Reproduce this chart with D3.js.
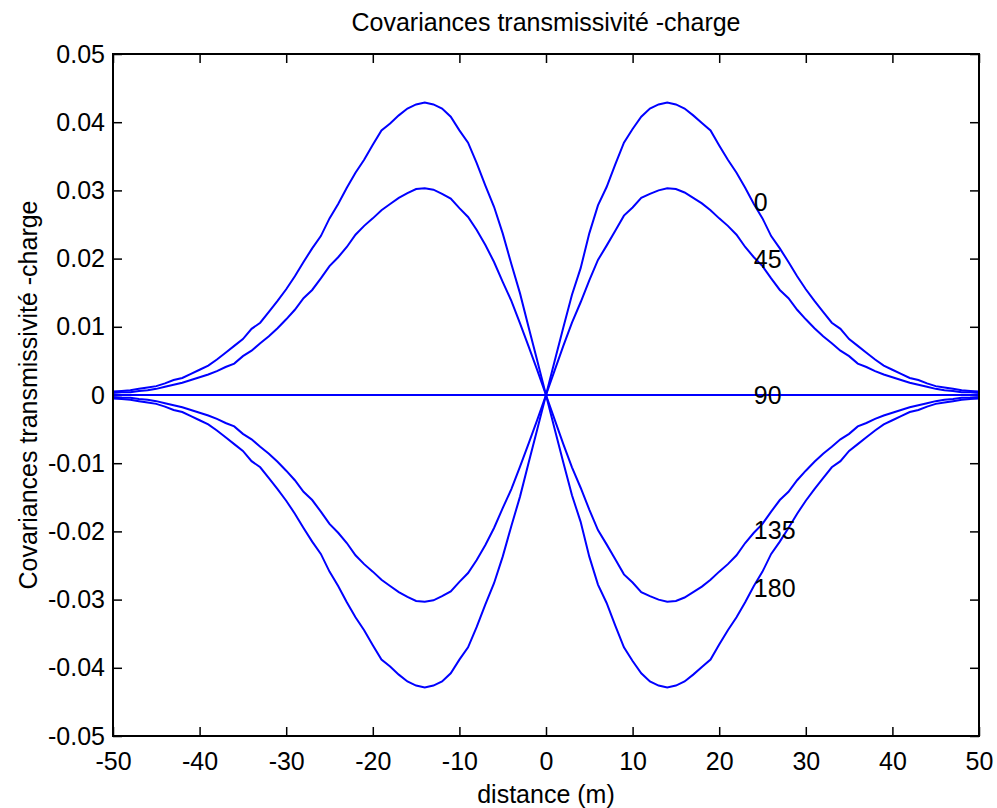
<!DOCTYPE html>
<html>
<head>
<meta charset="UTF-8">
<title>Covariances transmissivité -charge</title>
<script src="https://d3js.org/d3.v7.min.js"></script>
<style>
  body { margin: 0; background: #fff; }
  text { font-family: "Liberation Sans", Arial, Helvetica, sans-serif; }
</style>
</head>
<body>
<div id="chart"></div>
<script>
// distances (m)
const distance = d3.range(-50, 51, 1)

// covariance curves, one per angle
const cov0 = [
  -0.0005,-0.0006,-0.0007,-0.0009,-0.0011,-0.0013,-0.0017,-0.0022,-0.0025,-0.0031,
  -0.0037,-0.0043,-0.0052,-0.0062,-0.0072,-0.0082,-0.0097,-0.0106,-0.0122,-0.0138,
  -0.0155,-0.0174,-0.0195,-0.0215,-0.0233,-0.0259,-0.0280,-0.0304,-0.0326,-0.0345,
  -0.0367,-0.0388,-0.0398,-0.0410,-0.0420,-0.0426,-0.0429,-0.0426,-0.0420,-0.0408,
  -0.0388,-0.0370,-0.0340,-0.0307,-0.0276,-0.0237,-0.0192,-0.0149,-0.0099,-0.0050,
  0,
  0.0050,0.0099,0.0147,0.0186,0.0237,0.0278,0.0305,0.0338,0.0370,0.0390,
  0.0408,0.0420,0.0426,0.0429,0.0426,0.0420,0.0410,0.0399,0.0388,0.0366,
  0.0345,0.0326,0.0304,0.0280,0.0259,0.0233,0.0215,0.0195,0.0174,0.0155,
  0.0138,0.0122,0.0106,0.0097,0.0082,0.0072,0.0062,0.0052,0.0043,0.0037,
  0.0031,0.0025,0.0022,0.0017,0.0013,0.0011,0.0009,0.0007,0.0006,0.0005
]
const cov45 = [
  -0.0003,-0.0004,-0.0004,-0.0006,-0.0007,-0.0009,-0.0012,-0.0015,-0.0018,-0.0022,
  -0.0026,-0.0030,-0.0035,-0.0041,-0.0046,-0.0057,-0.0065,-0.0076,-0.0086,-0.0098,
  -0.0111,-0.0125,-0.0142,-0.0154,-0.0171,-0.0189,-0.0202,-0.0217,-0.0235,-0.0248,
  -0.0259,-0.0271,-0.0280,-0.0289,-0.0296,-0.0302,-0.0303,-0.0301,-0.0295,-0.0288,
  -0.0274,-0.0261,-0.0242,-0.0220,-0.0195,-0.0166,-0.0138,-0.0105,-0.0071,-0.0036,
  0,
  0.0036,0.0072,0.0106,0.0136,0.0168,0.0198,0.0219,0.0241,0.0263,0.0275,
  0.0289,0.0295,0.0300,0.0303,0.0302,0.0297,0.0289,0.0281,0.0271,0.0259,
  0.0248,0.0235,0.0217,0.0202,0.0189,0.0171,0.0154,0.0142,0.0125,0.0111,
  0.0098,0.0086,0.0076,0.0065,0.0057,0.0046,0.0041,0.0035,0.0030,0.0026,
  0.0022,0.0018,0.0015,0.0012,0.0009,0.0007,0.0006,0.0004,0.0004,0.0003
]
const cov90 = [
  0,0,0,0,0,0,0,0,0,0, 0,0,0,0,0,0,0,0,0,0, 0,0,0,0,0,0,0,0,0,0,
  0,0,0,0,0,0,0,0,0,0, 0,0,0,0,0,0,0,0,0,0, 0,
  0,0,0,0,0,0,0,0,0,0, 0,0,0,0,0,0,0,0,0,0, 0,0,0,0,0,0,0,0,0,0,
  0,0,0,0,0,0,0,0,0,0, 0,0,0,0,0,0,0,0,0,0
]
const cov135 = [
  0.0003,0.0004,0.0004,0.0006,0.0007,0.0009,0.0012,0.0015,0.0018,0.0022,
  0.0026,0.0030,0.0035,0.0041,0.0046,0.0057,0.0065,0.0076,0.0086,0.0098,
  0.0111,0.0125,0.0142,0.0154,0.0171,0.0189,0.0202,0.0217,0.0235,0.0248,
  0.0259,0.0271,0.0280,0.0289,0.0296,0.0302,0.0303,0.0301,0.0295,0.0288,
  0.0274,0.0261,0.0242,0.0220,0.0195,0.0166,0.0138,0.0105,0.0071,0.0036,
  0,
  -0.0036,-0.0072,-0.0106,-0.0136,-0.0168,-0.0198,-0.0219,-0.0241,-0.0263,-0.0275,
  -0.0289,-0.0295,-0.0300,-0.0303,-0.0302,-0.0297,-0.0289,-0.0281,-0.0271,-0.0259,
  -0.0248,-0.0235,-0.0217,-0.0202,-0.0189,-0.0171,-0.0154,-0.0142,-0.0125,-0.0111,
  -0.0098,-0.0086,-0.0076,-0.0065,-0.0057,-0.0046,-0.0041,-0.0035,-0.0030,-0.0026,
  -0.0022,-0.0018,-0.0015,-0.0012,-0.0009,-0.0007,-0.0006,-0.0004,-0.0004,-0.0003
]
const cov180 = [
  0.0005,0.0006,0.0007,0.0009,0.0011,0.0013,0.0017,0.0022,0.0025,0.0031,
  0.0037,0.0043,0.0052,0.0062,0.0072,0.0082,0.0097,0.0106,0.0122,0.0138,
  0.0155,0.0174,0.0195,0.0215,0.0233,0.0259,0.0280,0.0304,0.0326,0.0345,
  0.0367,0.0388,0.0398,0.0410,0.0420,0.0426,0.0429,0.0426,0.0420,0.0408,
  0.0388,0.0370,0.0340,0.0307,0.0276,0.0237,0.0192,0.0149,0.0099,0.0050,
  0,
  -0.0050,-0.0099,-0.0147,-0.0186,-0.0237,-0.0278,-0.0305,-0.0338,-0.0370,-0.0390,
  -0.0408,-0.0420,-0.0426,-0.0429,-0.0426,-0.0420,-0.0410,-0.0399,-0.0388,-0.0366,
  -0.0345,-0.0326,-0.0304,-0.0280,-0.0259,-0.0233,-0.0215,-0.0195,-0.0174,-0.0155,
  -0.0138,-0.0122,-0.0106,-0.0097,-0.0082,-0.0072,-0.0062,-0.0052,-0.0043,-0.0037,
  -0.0031,-0.0025,-0.0022,-0.0017,-0.0013,-0.0011,-0.0009,-0.0007,-0.0006,-0.0005
]

// curve labels (text placed at x = 24)
const labelNames = ['0', '45', '90', '135', '180']
const labelValues = [0.0283, 0.0199, 0, -0.0199, -0.0283]
const labelDistance = 24

const xTicks = [-50, -40, -30, -20, -10, 0, 10, 20, 30, 40, 50]
const yTicks = [-0.05, -0.04, -0.03, -0.02, -0.01, 0, 0.01, 0.02, 0.03, 0.04, 0.05]

const series = [cov0, cov45, cov90, cov135, cov180]

const W = 997, H = 808
const margin = {top: 54, right: 18, bottom: 72, left: 113}
const w = W - margin.left - margin.right
const h = H - margin.top - margin.bottom
const fs = 25

const svg = d3.select('#chart').append('svg').attr('width', W).attr('height', H)
const g = svg.append('g').attr('transform', `translate(${margin.left},${margin.top})`)

const x = d3.scaleLinear().domain([-50, 50]).range([0, w])
const y = d3.scaleLinear().domain([-0.05, 0.05]).range([h, 0])

// plain hyphen for negatives, like the original
const fmtY = d => d === 0 ? '0' : d.toFixed(2)
const fmtX = d => String(d)

// ticks inside, box all round
const tick = 9
g.append('g').attr('transform', `translate(0,${h})`)
  .call(d3.axisBottom(x).tickValues(xTicks).tickSizeInner(-tick).tickSizeOuter(0).tickPadding(16).tickFormat(fmtX))
g.append('g')
  .call(d3.axisTop(x).tickValues(xTicks).tickSizeInner(-tick).tickSizeOuter(0).tickFormat(''))
g.append('g')
  .call(d3.axisLeft(y).tickValues(yTicks).tickSizeInner(-tick).tickSizeOuter(0).tickPadding(8).tickFormat(fmtY))
g.append('g').attr('transform', `translate(${w},0)`)
  .call(d3.axisRight(y).tickValues(yTicks).tickSizeInner(-tick).tickSizeOuter(0).tickFormat(''))

g.selectAll('.domain').remove()
g.selectAll('.tick line').attr('stroke', '#000').attr('stroke-width', 1.5)
g.selectAll('.tick text').attr('font-size', fs).attr('fill', '#000')
  .style('font-family', '"Liberation Sans", Arial, Helvetica, sans-serif')

const line = d3.line().x((d, i) => x(distance[i])).y(d => y(d))

g.selectAll('path.curve').data(series).enter().append('path')
  .attr('class', 'curve')
  .attr('d', d => line(d))
  .attr('fill', 'none')
  .attr('stroke', '#0000ff')
  .attr('stroke-width', 2)

g.append('rect').attr('width', w).attr('height', h)
  .attr('fill', 'none').attr('stroke', '#000').attr('stroke-width', 2)

g.selectAll('text.lab').data(labelNames).enter().append('text')
  .attr('class', 'lab')
  .attr('x', x(labelDistance))
  .attr('y', (d, i) => y(labelValues[i]))
  .attr('dy', '0.35em')
  .attr('font-size', fs)
  .text(d => d)

svg.append('text').attr('x', margin.left + w / 2).attr('y', 31)
  .attr('text-anchor', 'middle').attr('font-size', fs)
  .text('Covariances transmissivité -charge')

svg.append('text').attr('x', margin.left + w / 2).attr('y', 803)
  .attr('text-anchor', 'middle').attr('font-size', fs)
  .text('distance (m)')

svg.append('text')
  .attr('transform', `translate(37,${margin.top + h / 2}) rotate(-90)`)
  .attr('text-anchor', 'middle').attr('font-size', fs)
  .text('Covariances transmissivité -charge')
</script>
</body>
</html>
